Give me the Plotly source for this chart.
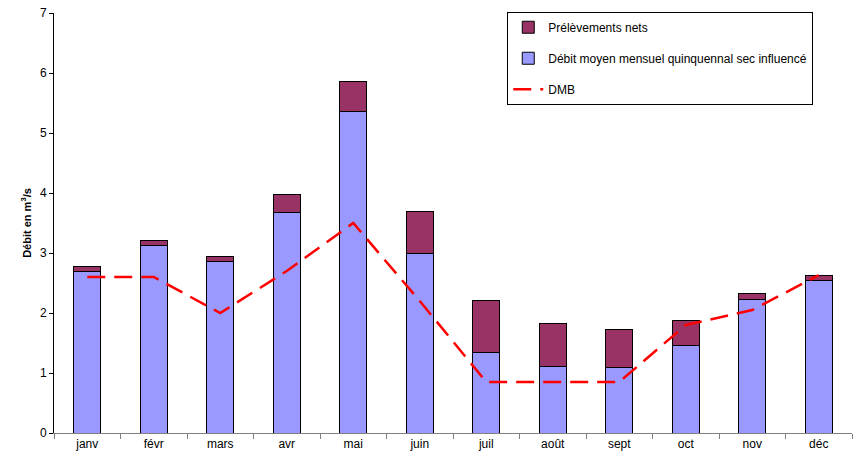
import plotly.graph_objects as go

mois = ["janv", "févr", "mars", "avr", "mai", "juin", "juil", "août", "sept", "oct", "nov", "déc"]
debit_sec = [2.69, 3.12, 2.86, 3.67, 5.355, 3.0, 1.345, 1.105, 1.09, 1.455, 2.23, 2.55]
prelevements = [0.08, 0.09, 0.09, 0.31, 0.50, 0.70, 0.86, 0.715, 0.64, 0.415, 0.10, 0.07]
dmb = [2.6, 2.6, 2.0, 2.7, 3.5, 2.2, 0.85, 0.85, 0.85, 1.8, 2.05, 2.63]

fig = go.Figure()
fig.add_trace(go.Bar(
    x=mois, y=debit_sec, name="Débit moyen mensuel quinquennal sec influencé",
    marker=dict(color="#9999FF", line=dict(color="black", width=1)),
    width=0.4, legendrank=2, legendgroup="b"))
fig.add_trace(go.Bar(
    x=mois, y=prelevements, name="Prélèvements nets",
    marker=dict(color="#993366", line=dict(color="black", width=1)),
    width=0.4, legendrank=1, legendgroup="a"))
fig.add_trace(go.Scatter(
    x=mois, y=dmb, name="DMB", mode="lines",
    line=dict(color="#FF0000", width=2.5, dash="18px,9px"),
    legendrank=3, legendgroup="c"))

fig.update_layout(
    width=859, height=460,
    barmode="stack",
    paper_bgcolor="white", plot_bgcolor="white",
    margin=dict(l=54, r=7, t=13, b=27, autoexpand=False),
    font=dict(family="Liberation Sans, Arial, sans-serif", size=12, color="black"),
    showlegend=True,
    legend=dict(
        x=0.568, y=1.003, xanchor="left", yanchor="top",
        bgcolor="white", bordercolor="black", borderwidth=1,
        tracegroupgap=12, font=dict(size=12),
        traceorder="grouped",
    ),
    xaxis=dict(
        showline=True, linecolor="#808080", linewidth=1,
        ticks="outside", tickson="boundaries", ticklen=5, tickcolor="#808080",
        showgrid=False, range=[-0.5, 11.5], automargin=False,
    ),
    yaxis=dict(
        range=[0, 7], dtick=1, showline=True, linecolor="black", linewidth=1,
        ticks="outside", ticklen=4, tickcolor="black", showgrid=False, zeroline=False,
        automargin=False,
        title=dict(text="<b>Débit en m<sup>3</sup>/s</b>", font=dict(size=11), standoff=6),
    ),
)

fig.write_html("out.html", config={"displayModeBar": False},
               post_script="document.body.style.margin='0';")
